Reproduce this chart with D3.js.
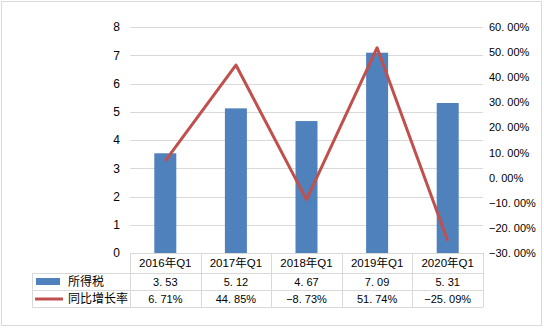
<!DOCTYPE html>
<html>
<head>
<meta charset="utf-8">
<script src="https://cdn.jsdelivr.net/npm/d3@7"></script>
<style>
  html, body { margin: 0; padding: 0; background: #fff; }
  svg { display: block; }
  text { font-family: "Liberation Sans", Arial, "Noto Sans CJK SC", sans-serif; fill: #000; }
  .cjk { font-family: "Noto Sans CJK SC", "Liberation Sans", sans-serif; }
</style>
</head>
<body>
<svg id="chart" width="544" height="328"></svg>
<script>
// Quarterly income-tax revenue and its year-on-year growth
const categories = ["2016年Q1", "2017年Q1", "2018年Q1", "2019年Q1", "2020年Q1"];
const taxValues = [3.53, 5.12, 4.67, 7.09, 5.31];
const growthValues = [6.71, 44.85, -8.73, 51.74, -25.09];
const leftTicks = [0, 1, 2, 3, 4, 5, 6, 7, 8];
const rightTicks = [-30, -20, -10, 0, 10, 20, 30, 40, 50, 60];
const seriesNames = ["所得税", "同比增长率"];

const plot = { left: 130, right: 483, top: 27, bottom: 253 };
const barColor = "#4F81BD", lineColor = "#C0504D", gridColor = "#D9D9D9";

const svg = d3.select("#chart");

// outer frame
svg.append("rect")
  .attr("x", 1.5).attr("y", 1.5).attr("width", 540).attr("height", 324)
  .attr("fill", "#fff").attr("stroke", "#D9D9D9");

const x = d3.scaleBand().domain(categories).range([plot.left, plot.right]).paddingInner(0).paddingOuter(0);
const yL = d3.scaleLinear().domain([0, 8]).range([plot.bottom, plot.top]);
const yR = d3.scaleLinear().domain([-30, 60]).range([plot.bottom, plot.top]);

// number formatting with a spaced decimal point and a true minus sign
const fmtNum = d => d.toFixed(2).replace("-", "\u2212").replace(".", ". ");

// horizontal gridlines
svg.append("g").selectAll("line").data(leftTicks.slice(1)).join("line")
  .attr("x1", plot.left).attr("x2", plot.right)
  .attr("y1", d => Math.round(yL(d)) + 0.5).attr("y2", d => Math.round(yL(d)) + 0.5)
  .attr("stroke", gridColor);

// left axis labels
const axL = d3.axisLeft(yL).tickValues(leftTicks).tickSize(0).tickPadding(0);
const gL = svg.append("g").attr("transform", `translate(${plot.left - 10},0)`).call(axL);
gL.select(".domain").remove();
gL.selectAll("text").attr("font-size", 12).attr("font-family", "Liberation Sans, Arial, sans-serif").attr("fill", "#000");

// right axis labels
const axR = d3.axisRight(yR).tickValues(rightTicks).tickSize(0).tickPadding(0)
  .tickFormat(d => fmtNum(d) + "%");
const gR = svg.append("g").attr("transform", `translate(${plot.right + 6},0)`).call(axR);
gR.select(".domain").remove();
gR.selectAll("text").attr("font-size", 11).attr("font-family", "Liberation Sans, Arial, sans-serif").attr("fill", "#000");

// bars
const barW = 22;
svg.append("g").selectAll("rect").data(taxValues).join("rect")
  .attr("x", (d, i) => x(categories[i]) + x.bandwidth() / 2 - barW / 2)
  .attr("width", barW)
  .attr("y", d => yL(d))
  .attr("height", d => yL(0) - yL(d))
  .attr("fill", barColor);

// growth line
const line = d3.line()
  .x((d, i) => x(categories[i]) + x.bandwidth() / 2)
  .y(d => yR(d));
svg.append("path").datum(growthValues)
  .attr("d", line).attr("fill", "none")
  .attr("stroke", lineColor).attr("stroke-width", 3).attr("stroke-linejoin", "round");

// data table beneath the plot
const rowTop = [253, 273, 290, 307];
const tableLeft = 32;
const tg = svg.append("g");
const hl = (x1, x2, y) => tg.append("line").attr("x1", x1).attr("x2", x2)
  .attr("y1", y + 0.5).attr("y2", y + 0.5).attr("stroke", gridColor);
const vl = (xx, y1, y2) => tg.append("line").attr("x1", xx + 0.5).attr("x2", xx + 0.5)
  .attr("y1", y1).attr("y2", y2).attr("stroke", gridColor);
hl(plot.left, plot.right, rowTop[0]);
hl(tableLeft, plot.right, rowTop[1]);
hl(tableLeft, plot.right, rowTop[2]);
hl(tableLeft, plot.right, rowTop[3]);
vl(tableLeft, rowTop[1], rowTop[3]);
categories.forEach(c => vl(Math.round(x(c)), rowTop[0], rowTop[3]));
vl(plot.right, rowTop[0], rowTop[3]);

const cx = (i) => x(categories[i]) + x.bandwidth() / 2;
categories.forEach((c, i) => {
  tg.append("text").attr("x", cx(i)).attr("y", (rowTop[0] + rowTop[1]) / 2 + 4)
    .attr("text-anchor", "middle").attr("font-size", 11.5).text(c);
  tg.append("text").attr("x", cx(i)).attr("y", (rowTop[1] + rowTop[2]) / 2 + 4)
    .attr("text-anchor", "middle").attr("font-size", 11).text(fmtNum(taxValues[i]));
  tg.append("text").attr("x", cx(i)).attr("y", (rowTop[2] + rowTop[3]) / 2 + 4)
    .attr("text-anchor", "middle").attr("font-size", 11).text(fmtNum(growthValues[i]) + "%");
});

// legend keys in the table's first column
tg.append("rect").attr("x", 36).attr("y", 278).attr("width", 24).attr("height", 7).attr("fill", barColor);
tg.append("line").attr("x1", 35).attr("x2", 63).attr("y1", 299).attr("y2", 299)
  .attr("stroke", lineColor).attr("stroke-width", 3);
tg.append("text").attr("class", "cjk").attr("x", 68).attr("y", 286).attr("font-size", 12).text(seriesNames[0]);
tg.append("text").attr("class", "cjk").attr("x", 68).attr("y", 303).attr("font-size", 12).text(seriesNames[1]);
</script>
</body>
</html>
